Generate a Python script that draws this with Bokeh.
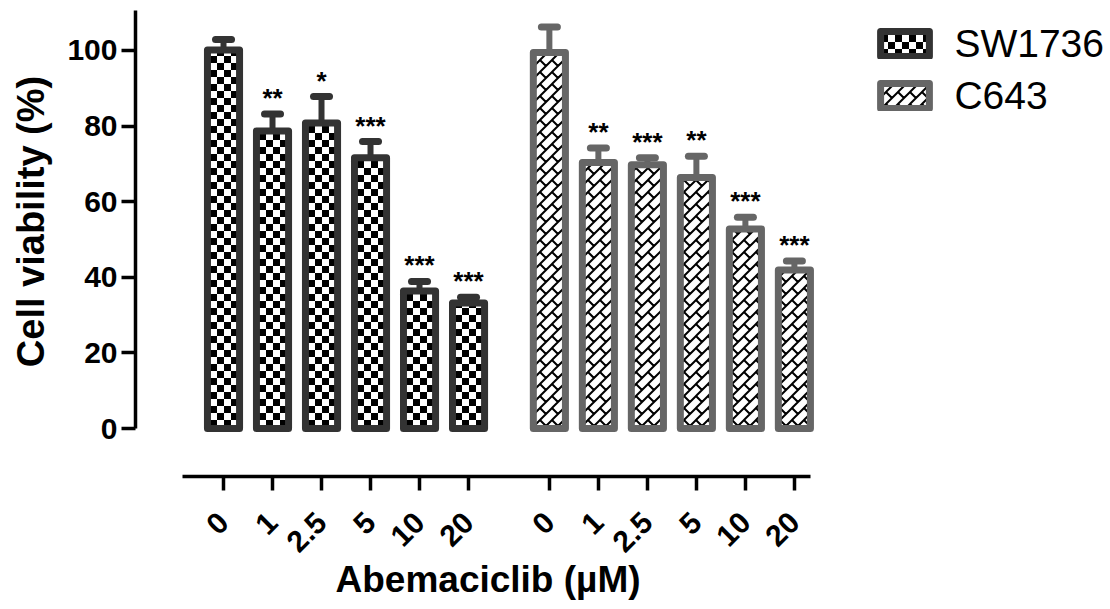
import numpy as np
from bokeh.plotting import figure
from bokeh.models import (Range1d, FixedTicker, LinearAxis, Legend, LegendItem,
                          CanvasTexture, ColumnDataSource, Title)
from bokeh.core.properties import value
from bokeh.embed import file_html
from bokeh.resources import INLINE

# ---------------- data ----------------
doses = ["0", "1", "2.5", "5", "10", "20"]
cell_lines = ["SW1736", "C643"]
sw_mean = [100.1, 78.7, 80.8, 71.6, 36.4, 33.2]
sw_sem = [2.8, 4.5, 7.0, 4.3, 2.5, 1.5]
sw_sig = ["", "**", "*", "***", "***", "***"]
c643_mean = [99.5, 70.4, 69.8, 66.4, 52.8, 41.9]
c643_sem = [6.7, 3.8, 1.8, 5.6, 3.1, 2.4]
c643_sig = ["", "**", "***", "**", "***", "***"]
y_ticks = [0, 20, 40, 60, 80, 100]

FONT = "Liberation Sans"
group_gap = 0.65

# ---------------- fill textures ----------------
checker = CanvasTexture(code="""
const n = 14, h = 7;
ctx.canvas.width = n; ctx.canvas.height = n;
ctx.setTransform(1, 0, 0, 1, 0, 0);
ctx.clearRect(0, 0, n, n);
ctx.fillStyle = '#000000';
ctx.fillRect(0, 0, h, h);
ctx.fillRect(h, h, h, h);
""")
brick = CanvasTexture(code="""
const s = 12;
ctx.canvas.width = s; ctx.canvas.height = s;
ctx.setTransform(1, 0, 0, 1, 0, 0);
ctx.clearRect(0, 0, s, s);
ctx.strokeStyle = '#000000';
ctx.lineWidth = 2;
ctx.lineCap = 'square';
ctx.beginPath();
ctx.moveTo(0, s); ctx.lineTo(s, 0);
ctx.moveTo(-2, 2); ctx.lineTo(2, -2);
ctx.moveTo(s - 2, s + 2); ctx.lineTo(s + 2, s - 2);
ctx.moveTo(0, 0); ctx.lineTo(s / 2, s / 2);
ctx.stroke();
""")

# ---------------- figure ----------------
W, H = 1108, 607
p = figure(width=W, height=H, output_backend="svg", toolbar_location=None,
           x_range=Range1d(-1.796, 18.06), y_range=Range1d(-1.058, 110.58),
           x_axis_location=None, y_axis_location=None,
           min_border_left=135, min_border_right=0, min_border_top=10,
           min_border_bottom=H - 432)
p.outline_line_color = None
p.xgrid.visible = False
p.ygrid.visible = False

series = [
    (cell_lines[0], sw_mean, sw_sem, sw_sig, "#333333", "checker", checker),
    (cell_lines[1], c643_mean, c643_sem, c643_sig, "#666666", "brick", brick),
]

all_x = []
tick_labels = {}
legend_items = []
for gi, (name, mean, sem, sig, col, hname, tex) in enumerate(series):
    xs = [gi * (len(doses) + group_gap) + i for i in range(len(doses))]
    upper = [m + s for m, s in zip(mean, sem)]
    src = ColumnDataSource(dict(x=xs, top=mean, upper=upper, sig=sig, dose=doses))
    all_x += xs
    for xv, d in zip(xs, doses):
        tick_labels[xv] = d
    p.segment(x0="x", y0="top", x1="x", y1="upper", source=src,
              line_color=col, line_width=6)
    r = p.vbar(x="x", top="top", bottom=0, width=0.655, source=src,
               fill_color="white", line_color=col, line_width=7,
               line_join="round", hatch_pattern=value(hname),
               hatch_extra={hname: tex}, hatch_color="black")
    p.scatter(x="x", y="upper", source=src, marker="dash", size=16,
              line_color=col, line_width=7, line_cap="round")
    p.text(x="x", y="upper", text="sig", source=src, text_align="center",
           text_baseline="alphabetic", y_offset=-16, text_font=value(FONT),
           text_font_style="bold", text_font_size="26px", text_color="black")
    legend_items.append(LegendItem(label=name, renderers=[r]))

yaxis = LinearAxis(ticker=FixedTicker(ticks=y_ticks), bounds=(0, 110.58),
                   axis_label="Cell viability (%)")
# invisible spacer that moves the dose axis below the bars' baseline
spacer = LinearAxis(ticker=FixedTicker(ticks=[16.5]), axis_line_color=None,
                    major_tick_line_color="white", major_tick_line_width=1,
                    minor_tick_line_color=None, major_tick_out=44,
                    major_tick_in=0, major_label_standoff=0,
                    major_label_overrides={16.5: ""},
                    major_label_text_font_size="1px")
xaxis = LinearAxis(ticker=FixedTicker(ticks=all_x), bounds=(-0.84, 11.98),
                   major_label_overrides=tick_labels)
for ax in (xaxis, yaxis):
    ax.axis_line_width = 3.5
    ax.axis_line_color = "black"
    ax.major_tick_line_width = 3.5
    ax.major_tick_line_color = "black"
    ax.major_tick_out = 14
    ax.major_tick_in = 0
    ax.minor_tick_line_color = None
    ax.major_label_text_font = FONT
    ax.major_label_text_font_style = "bold"
    ax.major_label_text_font_size = "30px"
    ax.major_label_text_color = "black"
yaxis.axis_label_text_font = FONT
yaxis.axis_label_text_font_style = "bold"
yaxis.axis_label_text_color = "black"
yaxis.axis_label_text_font_size = "38px"
yaxis.major_label_standoff = 4
yaxis.axis_label_standoff = 12
xaxis.major_label_orientation = np.pi / 4
xaxis.major_label_standoff = 27
p.add_layout(yaxis, "left")
p.add_layout(spacer, "below")
p.add_layout(xaxis, "below")

xtitle = Title(text="Abemaciclib (µM)", align="left", offset=200,
               vertical_align="top", standoff=-12, text_font=FONT,
               text_font_style="bold", text_font_size="37px", text_color="black")
p.add_layout(xtitle, "below")

legend = Legend(items=legend_items, location=(739.4, 313.5))
legend.border_line_alpha = 0
legend.background_fill_alpha = 0
legend.padding = 0
legend.margin = 0
legend.spacing = 6
legend.glyph_width = 61
legend.glyph_height = 31
legend.label_height = 46
legend.label_standoff = 19
legend.label_text_font = FONT
legend.label_text_font_size = "39px"
legend.label_text_color = "black"
legend.label_text_baseline = "middle"
p.add_layout(legend)

open("out.html", "w").write(file_html(p, INLINE))
